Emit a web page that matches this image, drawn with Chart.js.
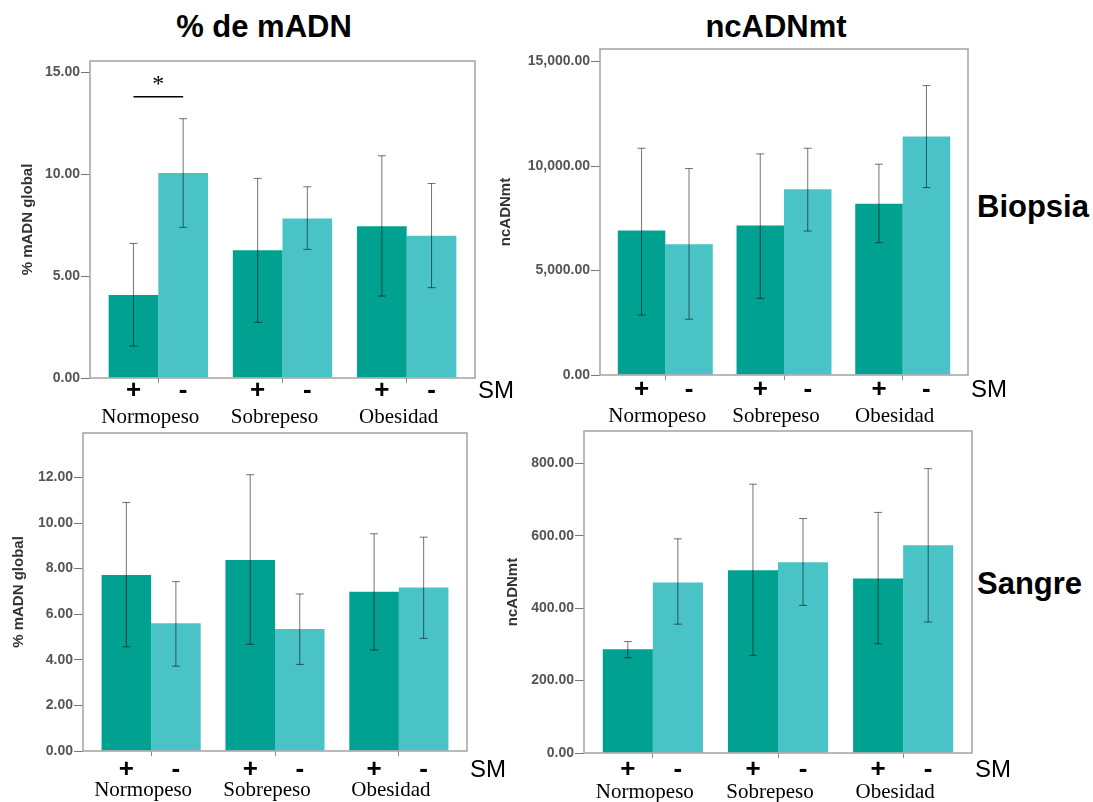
<!DOCTYPE html>
<html>
<head>
<meta charset="utf-8">
<script src="https://cdn.jsdelivr.net/npm/chart.js@4.4.1/dist/chart.umd.min.js"></script>
<style>
  body { margin:0; background:#fff; width:1093px; height:802px; position:relative; overflow:hidden;
         font-family:"Liberation Sans", Arial, sans-serif; }
  canvas { position:absolute; }
  .big { position:absolute; font-weight:bold; font-size:31px; line-height:31px; color:#000; white-space:nowrap; }
</style>
</head>
<body>

<div class="big" style="left:114px;width:300px;text-align:center;top:11px">% de mADN</div>
<div class="big" style="left:626px;width:300px;text-align:center;top:11px">ncADNmt</div>
<div class="big" style="left:977px;top:191px">Biopsia</div>
<div class="big" style="left:977px;top:568px">Sangre</div>

<canvas id="c1" width="520" height="395" style="left:0;top:40px"></canvas>
<canvas id="c2" width="603" height="405" style="left:490px;top:30px"></canvas>
<canvas id="c3" width="520" height="382" style="left:0;top:420px"></canvas>
<canvas id="c4" width="603" height="382" style="left:490px;top:420px"></canvas>

<script>
// ===== datos =====
const categories = ['Normopeso', 'Sobrepeso', 'Obesidad'];
const smLabels   = ['+', '-'];

// ticks del eje Y
const bioPctTicks = [0, 5, 10, 15];
const bioNcTicks  = [0, 5000, 10000, 15000];
const sanPctTicks = [0, 2, 4, 6, 8, 10, 12];
const sanNcTicks  = [0, 200, 400, 600, 800];

// Biopsia – % mADN global
const bioPctPos   = [4.07, 6.27, 7.45];
const bioPctPosLo = [1.57, 2.73, 4.02];
const bioPctPosHi = [6.60, 9.79, 10.90];
const bioPctNeg   = [10.06, 7.83, 6.98];
const bioPctNegLo = [7.39, 6.31, 4.43];
const bioPctNegHi = [12.72, 9.38, 9.54];
const bioPctSig   = 13.8;   // altura de la barra del asterisco (Normopeso)

// Biopsia – ncADNmt
const bioNcPos   = [6910, 7150, 8200];
const bioNcPosLo = [2870, 3670, 6330];
const bioNcPosHi = [10850, 10580, 10090];
const bioNcNeg   = [6260, 8890, 11410];
const bioNcNegLo = [2670, 6890, 8970];
const bioNcNegHi = [9880, 10850, 13850];

// Sangre – % mADN global
const sanPctPos   = [7.72, 8.38, 6.99];
const sanPctPosLo = [4.57, 4.68, 4.43];
const sanPctPosHi = [10.90, 12.12, 9.53];
const sanPctNeg   = [5.60, 5.35, 7.17];
const sanPctNegLo = [3.72, 3.80, 4.94];
const sanPctNegHi = [7.43, 6.89, 9.38];

// Sangre – ncADNmt
const sanNcPos   = [287, 505, 482];
const sanNcPosLo = [263, 270, 302];
const sanNcPosHi = [308, 743, 665];
const sanNcNeg   = [471, 527, 574];
const sanNcNegLo = [356, 408, 362];
const sanNcNegHi = [592, 648, 786];

// ===== estilos =====
const DARK  = '#00a191';
const LIGHT = '#49c3c6';
const SANS  = '"Liberation Sans", Arial, sans-serif';
const SERIF = '"Liberation Serif", "Times New Roman", serif';

const fmtPct = v => v.toFixed(2);
const fmtNc  = v => v.toLocaleString('en-US', { minimumFractionDigits: 2, maximumFractionDigits: 2 });

// barras de error, marco, +/-, SM, nombres de grupo, asterisco
const panelDecor = {
  id: 'panelDecor',
  afterDatasetsDraw(chart, args, o) {
    const { ctx, chartArea: a, scales: { x, y } } = chart;
    ctx.save();

    // error bars
    ctx.strokeStyle = 'rgba(0,0,0,0.55)';
    ctx.lineWidth = 1;
    chart.data.datasets.forEach((ds, di) => {
      chart.getDatasetMeta(di).data.forEach((bar, i) => {
        const yh = y.getPixelForValue(ds.hi[i]);
        const yl = y.getPixelForValue(ds.lo[i]);
        ctx.beginPath();
        ctx.moveTo(bar.x, yh); ctx.lineTo(bar.x, yl);
        ctx.moveTo(bar.x - 4, yh); ctx.lineTo(bar.x + 4, yh);
        ctx.moveTo(bar.x - 4, yl); ctx.lineTo(bar.x + 4, yl);
        ctx.stroke();
      });
    });

    // box
    ctx.strokeStyle = '#a3a3a3';
    ctx.lineWidth = 1.5;
    ctx.strokeRect(a.left, a.top, a.right - a.left, a.bottom - a.top);

    // + / - under every bar
    ctx.fillStyle = '#000';
    ctx.textAlign = 'center';
    ctx.textBaseline = 'middle';
    ctx.font = 'bold 26px ' + SANS;
    chart.data.datasets.forEach((ds, di) => {
      chart.getDatasetMeta(di).data.forEach(bar => {
        ctx.fillText(smLabels[di], bar.x, a.bottom + o.markY);
      });
    });
    ctx.textAlign = 'left';
    ctx.font = '24px ' + SANS;
    ctx.fillText('SM', a.right + 3, a.bottom + o.markY);

    // group names
    ctx.textAlign = 'center';
    ctx.textBaseline = 'alphabetic';
    ctx.font = '21px ' + SERIF;
    categories.forEach((c, i) => {
      ctx.fillText(c, x.getPixelForValue(i) - 8, a.bottom + o.nameY);
    });

    // significance
    if (o.sig != null) {
      const m0 = chart.getDatasetMeta(0).data[0], m1 = chart.getDatasetMeta(1).data[0];
      const ys = y.getPixelForValue(o.sig);
      ctx.strokeStyle = '#000';
      ctx.lineWidth = 1.5;
      ctx.beginPath();
      ctx.moveTo(m0.x, ys); ctx.lineTo(m1.x, ys);
      ctx.stroke();
      ctx.font = '24px ' + SERIF;
      ctx.textBaseline = 'middle';
      ctx.fillText('*', (m0.x + m1.x) / 2, ys - 12);
    }
    ctx.restore();
  }
};

const pts = arr => arr.map((v, i) => ({ x: i, y: v }));

function makePanel(id, p) {
  return new Chart(document.getElementById(id), {
    type: 'bar',
    data: {
      datasets: [
        { label: smLabels[0], data: pts(p.pos), lo: p.posLo, hi: p.posHi, backgroundColor: DARK },
        { label: smLabels[1], data: pts(p.neg), lo: p.negLo, hi: p.negHi, backgroundColor: LIGHT }
      ]
    },
    options: {
      responsive: false,
      animation: false,
      layout: { padding: { top: p.padTop, right: p.padRight, left: 0, bottom: 0 } },
      datasets: { bar: { categoryPercentage: 0.8, barPercentage: 1.0 } },
      plugins: {
        legend: { display: false },
        tooltip: { enabled: false },
        panelDecor: { markY: p.markY, nameY: p.nameY, sig: p.sig }
      },
      scales: {
        x: {
          type: 'linear', min: -0.55, max: 2.55, offset: false,
          afterBuildTicks: s => { s.ticks = categories.map((_, i) => ({ value: i })); },
          afterFit: s => { s.height = p.xH; },
          ticks: { display: false },
          grid: { offset: false, drawOnChartArea: false, drawTicks: true, tickLength: 5, color: '#8a8a8a' },
          border: { display: false }
        },
        y: {
          min: 0, max: p.max,
          afterBuildTicks: s => { s.ticks = p.ticks.map(v => ({ value: v })); },
          afterFit: s => { s.width = p.yW; },
          ticks: {
            padding: 1, callback: p.fmt, color: '#555',
            font: { family: SANS, size: 14, weight: 'bold' }
          },
          grid: { drawOnChartArea: false, drawTicks: true, tickLength: 9, color: '#777' },
          border: { display: false },
          title: {
            display: true, text: p.title, color: '#333',
            font: { family: SANS, size: 15, weight: 'bold' },
            padding: { top: p.titlePad, bottom: 0 }
          }
        }
      }
    },
    plugins: [panelDecor]
  });
}

makePanel('c1', {
  pos: bioPctPos, posLo: bioPctPosLo, posHi: bioPctPosHi,
  neg: bioPctNeg, negLo: bioPctNegLo, negHi: bioPctNegHi,
  max: 15.55, ticks: bioPctTicks, fmt: fmtPct, title: '% mADN global', sig: bioPctSig,
  yW: 90, xH: 57, padTop: 21, padRight: 45, titlePad: 19, markY: 13, nameY: 45
});
makePanel('c2', {
  pos: bioNcPos, posLo: bioNcPosLo, posHi: bioNcPosHi,
  neg: bioNcNeg, negLo: bioNcNegLo, negHi: bioNcNegHi,
  max: 15600, ticks: bioNcTicks, fmt: fmtNc, title: 'ncADNmt',
  yW: 110, xH: 60, padTop: 19, padRight: 125, titlePad: 7, markY: 15, nameY: 47
});
makePanel('c3', {
  pos: sanPctPos, posLo: sanPctPosLo, posHi: sanPctPosHi,
  neg: sanPctNeg, negLo: sanPctNegLo, negHi: sanPctNegHi,
  max: 13.95, ticks: sanPctTicks, fmt: fmtPct, title: '% mADN global',
  yW: 83, xH: 51, padTop: 13, padRight: 53, titlePad: 10, markY: 19, nameY: 45
});
makePanel('c4', {
  pos: sanNcPos, posLo: sanNcPosLo, posHi: sanNcPosHi,
  neg: sanNcNeg, negLo: sanNcNegLo, negHi: sanNcNegHi,
  max: 890, ticks: sanNcTicks, fmt: fmtNc, title: 'ncADNmt',
  yW: 94, xH: 49, padTop: 11, padRight: 121, titlePad: 14, markY: 17, nameY: 45
});
</script>
</body>
</html>
